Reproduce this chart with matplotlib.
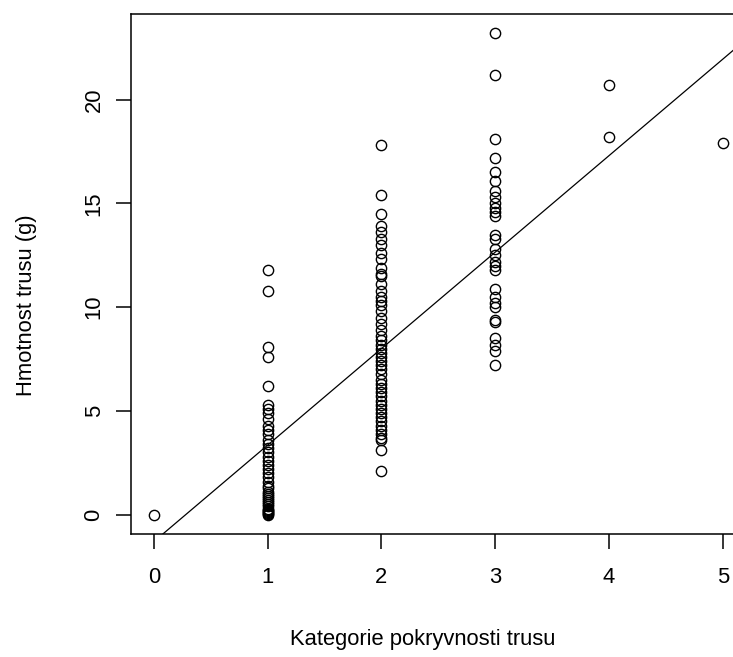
import matplotlib
matplotlib.use("Agg")
import matplotlib.pyplot as plt

# Data
cat0 = [0.0]
cat1 = [11.8, 10.8, 8.1, 7.6, 6.2, 5.3, 5.1, 4.9, 4.6, 4.3, 4.1, 3.9, 3.6, 3.4, 3.2,
        3.0, 2.8, 2.6, 2.4, 2.2, 2.0, 1.8, 1.6, 1.4, 1.3, 1.1, 1.0, 0.9, 0.8, 0.7,
        0.6, 0.5, 0.4, 0.3, 0.25, 0.2, 0.15, 0.1, 0.05, 0.0]
cat2 = [17.8, 15.4, 14.5, 13.9, 13.6, 13.3, 13.0, 12.6, 12.3, 11.9, 11.6, 11.5,
        11.1, 10.8, 10.5, 10.3, 10.1, 9.8, 9.5, 9.2, 8.9, 8.6, 8.4, 8.2, 8.0, 7.8,
        7.6, 7.4, 7.2, 7.0, 6.8, 6.5, 6.3, 6.1, 5.9, 5.7, 5.5, 5.3, 5.1, 4.9, 4.7,
        4.5, 4.3, 4.1, 3.9, 3.7, 3.6, 3.1, 2.1]
cat3 = [23.2, 21.2, 18.1, 17.2, 16.5, 16.1, 15.6, 15.3, 15.0, 14.8, 14.6, 14.4,
        13.5, 13.3, 12.8, 12.5, 12.2, 12.0, 11.8, 10.9, 10.5, 10.2, 10.0, 9.4, 9.3,
        8.5, 8.2, 7.9, 7.2]
cat4 = [20.7, 18.2]
cat5 = [17.9]

groups = [cat0, cat1, cat2, cat3, cat4, cat5]
xs = []
ys = []
for k, vals in enumerate(groups):
    xs += [k] * len(vals)
    ys += vals

intercept = -1.3
slope = 4.65

x_ticks = [0, 1, 2, 3, 4, 5]
y_ticks = [0, 5, 10, 15, 20]

plt.rcParams['font.family'] = ['Liberation Sans', 'DejaVu Sans']

W, H = 733, 657
fig = plt.figure(figsize=(W / 100, H / 100), dpi=100)
left, right, top, bottom = 131, 745.5, 14, 534
ax = fig.add_axes([left / W, 1 - bottom / H, (right - left) / W, (bottom - top) / H])

ax.plot(xs, ys, linestyle='none', marker='o', markersize=7.4,
        markerfacecolor='none', markeredgecolor='black', markeredgewidth=1.0)
ax.axline((0, intercept), slope=slope, color='black', linewidth=0.9)

ax.set_xlim(-0.2, 5.2)
ax.set_ylim(-0.928, 24.128)
ax.set_xticks(x_ticks)
ax.set_yticks(y_ticks)
ax.set_xticklabels([str(v) for v in x_ticks])
ax.set_yticklabels([str(v) for v in y_ticks], rotation=90, va='center')

for s in ax.spines.values():
    s.set_linewidth(1.1)
ax.spines['right'].set_visible(False)

ax.tick_params(axis='both', direction='out', length=11, width=1.1,
               labelsize=15.8)
ax.tick_params(axis='x', pad=13)
ax.tick_params(axis='y', pad=8)

fig.text(423 / W, 1 - 640 / H, 'Kategorie pokryvnosti trusu', fontsize=15.8,
         ha='center', va='center')
fig.text(27 / W, 1 - 305 / H, 'Hmotnost trusu (g)', fontsize=15.8,
         ha='center', va='center', rotation=90)

fig.savefig('out.png', dpi=100)
